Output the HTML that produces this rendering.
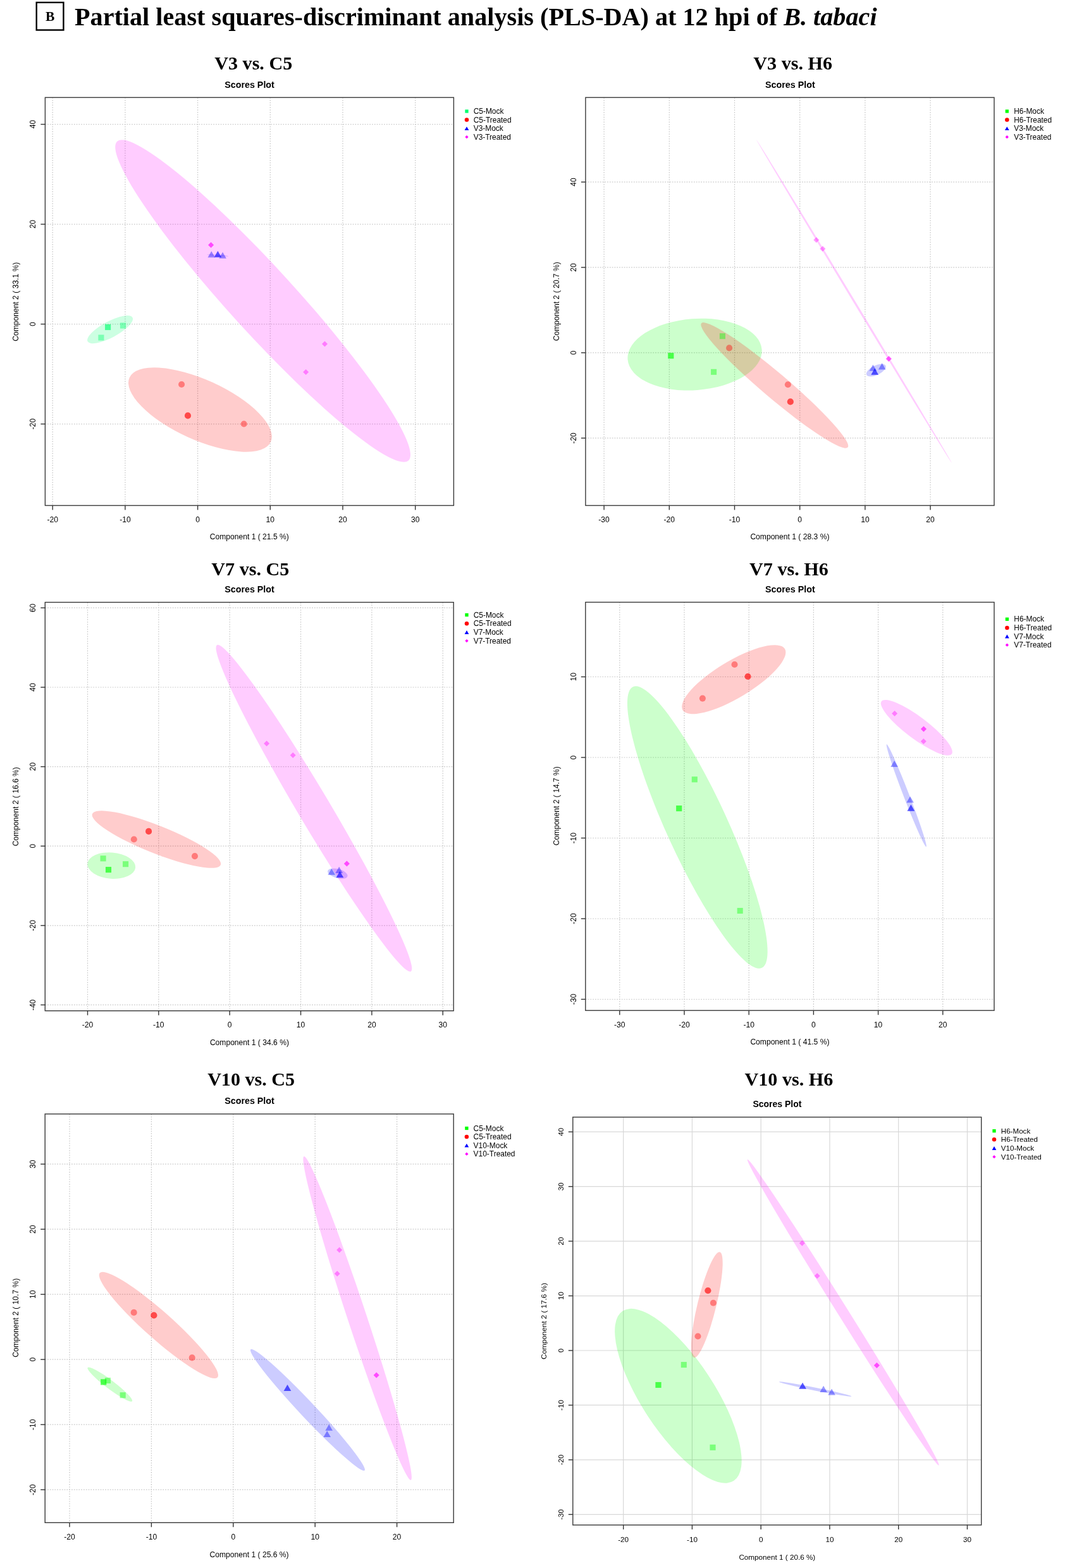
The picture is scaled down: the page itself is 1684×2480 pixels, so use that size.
<!DOCTYPE html>
<html><head><meta charset="utf-8"><title>PLS-DA</title>
<style>html,body{margin:0;padding:0;background:#fff;} svg{display:block;}</style></head>
<body><svg width="1684" height="2480" viewBox="0 0 1684 2480">
<rect width="1684" height="2480" fill="#fff"/>
<rect x="57.7" y="3.9" width="42.7" height="43.6" fill="none" stroke="#000" stroke-width="2.4"/>
<text x="79.1" y="33.2" text-anchor="middle" font-family="'Liberation Serif', 'Times New Roman', serif" font-weight="bold" font-size="21.5">B</text>
<text x="118" y="40" font-family="'Liberation Serif', 'Times New Roman', serif" font-weight="bold" font-size="40.2">Partial least squares-discriminant analysis (PLS-DA) at 12 hpi of <tspan font-style="italic">B. tabaci</tspan></text>
<line x1="83.20" y1="154.2" x2="83.20" y2="799.5" stroke="#c6c6c6" stroke-width="1.3" stroke-dasharray="1.5 2.3"/>
<line x1="197.90" y1="154.2" x2="197.90" y2="799.5" stroke="#c6c6c6" stroke-width="1.3" stroke-dasharray="1.5 2.3"/>
<line x1="312.60" y1="154.2" x2="312.60" y2="799.5" stroke="#c6c6c6" stroke-width="1.3" stroke-dasharray="1.5 2.3"/>
<line x1="427.30" y1="154.2" x2="427.30" y2="799.5" stroke="#c6c6c6" stroke-width="1.3" stroke-dasharray="1.5 2.3"/>
<line x1="542.00" y1="154.2" x2="542.00" y2="799.5" stroke="#c6c6c6" stroke-width="1.3" stroke-dasharray="1.5 2.3"/>
<line x1="656.70" y1="154.2" x2="656.70" y2="799.5" stroke="#c6c6c6" stroke-width="1.3" stroke-dasharray="1.5 2.3"/>
<line x1="71.4" y1="670.60" x2="717.4" y2="670.60" stroke="#c6c6c6" stroke-width="1.3" stroke-dasharray="1.5 2.3"/>
<line x1="71.4" y1="512.60" x2="717.4" y2="512.60" stroke="#c6c6c6" stroke-width="1.3" stroke-dasharray="1.5 2.3"/>
<line x1="71.4" y1="354.60" x2="717.4" y2="354.60" stroke="#c6c6c6" stroke-width="1.3" stroke-dasharray="1.5 2.3"/>
<line x1="71.4" y1="196.60" x2="717.4" y2="196.60" stroke="#c6c6c6" stroke-width="1.3" stroke-dasharray="1.5 2.3"/>
<ellipse cx="174.07" cy="521.15" rx="40.22" ry="12.82" transform="rotate(-28.070 174.07 521.15)" fill="rgba(0,255,110,0.2)"/>
<ellipse cx="316.45" cy="648.00" rx="122.75" ry="47.38" transform="rotate(24.450 316.45 648.00)" fill="rgba(255,0,0,0.2)"/>
<ellipse cx="344.25" cy="404.00" rx="17.00" ry="0.90" transform="rotate(4.386 344.25 404.00)" fill="rgba(0,0,255,0.2)"/>
<ellipse cx="415.63" cy="475.96" rx="341.68" ry="51.65" transform="rotate(47.630 415.63 475.96)" fill="rgba(255,0,255,0.2)"/>
<rect x="155.35" y="529.45" width="9.10" height="9.10" fill="rgba(0,255,110,0.4)"/>
<rect x="166.05" y="512.95" width="9.10" height="9.10" fill="rgba(0,255,110,0.4)"/>
<rect x="166.05" y="512.95" width="9.10" height="9.10" fill="rgba(0,255,110,0.4)"/>
<rect x="189.95" y="510.45" width="9.10" height="9.10" fill="rgba(0,255,110,0.4)"/>
<circle cx="287.10" cy="608.00" r="5.05" fill="rgba(255,0,0,0.4)"/>
<circle cx="297.00" cy="657.40" r="5.05" fill="rgba(255,0,0,0.4)"/>
<circle cx="297.00" cy="657.40" r="5.05" fill="rgba(255,0,0,0.4)"/>
<circle cx="385.70" cy="670.50" r="5.05" fill="rgba(255,0,0,0.4)"/>
<polygon points="334.30,397.25 340.10,407.35 328.50,407.35" fill="rgba(0,0,255,0.4)"/>
<polygon points="344.40,396.95 350.20,407.05 338.60,407.05" fill="rgba(0,0,255,0.4)"/>
<polygon points="344.40,396.95 350.20,407.05 338.60,407.05" fill="rgba(0,0,255,0.4)"/>
<polygon points="352.10,398.65 357.90,408.75 346.30,408.75" fill="rgba(0,0,255,0.4)"/>
<polygon points="333.60,383.10 338.10,387.60 333.60,392.10 329.10,387.60" fill="rgba(255,0,255,0.4)"/>
<polygon points="333.60,383.10 338.10,387.60 333.60,392.10 329.10,387.60" fill="rgba(255,0,255,0.4)"/>
<polygon points="513.50,539.40 518.00,543.90 513.50,548.40 509.00,543.90" fill="rgba(255,0,255,0.4)"/>
<polygon points="483.60,583.90 488.10,588.40 483.60,592.90 479.10,588.40" fill="rgba(255,0,255,0.4)"/>
<rect x="71.4" y="154.2" width="646.0" height="645.3" fill="none" stroke="#383838" stroke-width="1.4"/>
<line x1="83.20" y1="799.5" x2="83.20" y2="806.5" stroke="#333" stroke-width="1.4"/>
<text x="83.20" y="825.8" text-anchor="middle" font-family="'Liberation Sans', Arial, sans-serif" font-size="12.1">-20</text>
<line x1="197.90" y1="799.5" x2="197.90" y2="806.5" stroke="#333" stroke-width="1.4"/>
<text x="197.90" y="825.8" text-anchor="middle" font-family="'Liberation Sans', Arial, sans-serif" font-size="12.1">-10</text>
<line x1="312.60" y1="799.5" x2="312.60" y2="806.5" stroke="#333" stroke-width="1.4"/>
<text x="312.60" y="825.8" text-anchor="middle" font-family="'Liberation Sans', Arial, sans-serif" font-size="12.1">0</text>
<line x1="427.30" y1="799.5" x2="427.30" y2="806.5" stroke="#333" stroke-width="1.4"/>
<text x="427.30" y="825.8" text-anchor="middle" font-family="'Liberation Sans', Arial, sans-serif" font-size="12.1">10</text>
<line x1="542.00" y1="799.5" x2="542.00" y2="806.5" stroke="#333" stroke-width="1.4"/>
<text x="542.00" y="825.8" text-anchor="middle" font-family="'Liberation Sans', Arial, sans-serif" font-size="12.1">20</text>
<line x1="656.70" y1="799.5" x2="656.70" y2="806.5" stroke="#333" stroke-width="1.4"/>
<text x="656.70" y="825.8" text-anchor="middle" font-family="'Liberation Sans', Arial, sans-serif" font-size="12.1">30</text>
<line x1="64.4" y1="670.60" x2="71.4" y2="670.60" stroke="#333" stroke-width="1.4"/>
<text x="56.4" y="670.60" transform="rotate(-90 56.4 670.60)" text-anchor="middle" font-family="'Liberation Sans', Arial, sans-serif" font-size="12.1">-20</text>
<line x1="64.4" y1="512.60" x2="71.4" y2="512.60" stroke="#333" stroke-width="1.4"/>
<text x="56.4" y="512.60" transform="rotate(-90 56.4 512.60)" text-anchor="middle" font-family="'Liberation Sans', Arial, sans-serif" font-size="12.1">0</text>
<line x1="64.4" y1="354.60" x2="71.4" y2="354.60" stroke="#333" stroke-width="1.4"/>
<text x="56.4" y="354.60" transform="rotate(-90 56.4 354.60)" text-anchor="middle" font-family="'Liberation Sans', Arial, sans-serif" font-size="12.1">20</text>
<line x1="64.4" y1="196.60" x2="71.4" y2="196.60" stroke="#333" stroke-width="1.4"/>
<text x="56.4" y="196.60" transform="rotate(-90 56.4 196.60)" text-anchor="middle" font-family="'Liberation Sans', Arial, sans-serif" font-size="12.1">40</text>
<text x="400.75" y="110.2" text-anchor="middle" font-family="'Liberation Serif', 'Times New Roman', serif" font-weight="bold" font-size="30.1">V3 vs. C5</text>
<text x="394.55" y="138.6" text-anchor="middle" font-family="'Liberation Sans', Arial, sans-serif" font-weight="bold" font-size="14.3">Scores Plot</text>
<text x="394.3" y="853.2" text-anchor="middle" font-family="'Liberation Sans', Arial, sans-serif" font-size="12.1">Component 1 ( 21.5 %)</text>
<text x="28.9" y="477.3" transform="rotate(-90 28.9 477.3)" text-anchor="middle" font-family="'Liberation Sans', Arial, sans-serif" font-size="12.1">Component 2 ( 33.1 %)</text>
<rect x="735.35" y="173.35" width="5.30" height="5.30" fill="rgba(0,255,110,1)"/>
<text x="748.7" y="180.10" font-family="'Liberation Sans', Arial, sans-serif" font-size="11.95">C5-Mock</text>
<circle cx="738.00" cy="189.55" r="3.25" fill="rgba(255,0,0,1)"/>
<text x="748.7" y="193.65" font-family="'Liberation Sans', Arial, sans-serif" font-size="11.95">C5-Treated</text>
<polygon points="738.00,200.14 741.40,206.06 734.60,206.06" fill="rgba(0,0,255,1)"/>
<text x="748.7" y="207.20" font-family="'Liberation Sans', Arial, sans-serif" font-size="11.95">V3-Mock</text>
<polygon points="738.00,214.00 740.65,216.65 738.00,219.30 735.35,216.65" fill="rgba(255,0,255,1)"/>
<text x="748.7" y="220.75" font-family="'Liberation Sans', Arial, sans-serif" font-size="11.95">V3-Treated</text>
<line x1="955.10" y1="154.2" x2="955.10" y2="799.5" stroke="#cacaca" stroke-width="1.2" stroke-dasharray="1.8 2.0"/>
<line x1="1058.30" y1="154.2" x2="1058.30" y2="799.5" stroke="#cacaca" stroke-width="1.2" stroke-dasharray="1.8 2.0"/>
<line x1="1161.50" y1="154.2" x2="1161.50" y2="799.5" stroke="#cacaca" stroke-width="1.2" stroke-dasharray="1.8 2.0"/>
<line x1="1264.70" y1="154.2" x2="1264.70" y2="799.5" stroke="#cacaca" stroke-width="1.2" stroke-dasharray="1.8 2.0"/>
<line x1="1367.90" y1="154.2" x2="1367.90" y2="799.5" stroke="#cacaca" stroke-width="1.2" stroke-dasharray="1.8 2.0"/>
<line x1="1471.10" y1="154.2" x2="1471.10" y2="799.5" stroke="#cacaca" stroke-width="1.2" stroke-dasharray="1.8 2.0"/>
<line x1="925.9" y1="692.90" x2="1572" y2="692.90" stroke="#cacaca" stroke-width="1.2" stroke-dasharray="1.8 2.0"/>
<line x1="925.9" y1="557.90" x2="1572" y2="557.90" stroke="#cacaca" stroke-width="1.2" stroke-dasharray="1.8 2.0"/>
<line x1="925.9" y1="422.90" x2="1572" y2="422.90" stroke="#cacaca" stroke-width="1.2" stroke-dasharray="1.8 2.0"/>
<line x1="925.9" y1="287.90" x2="1572" y2="287.90" stroke="#cacaca" stroke-width="1.2" stroke-dasharray="1.8 2.0"/>
<ellipse cx="1098.56" cy="560.63" rx="106.34" ry="56.51" transform="rotate(-4.240 1098.56 560.63)" fill="rgba(0,255,0,0.2)"/>
<ellipse cx="1224.79" cy="609.42" rx="151.79" ry="19.78" transform="rotate(40.310 1224.79 609.42)" fill="rgba(255,0,0,0.2)"/>
<ellipse cx="1385.30" cy="585.60" rx="16.78" ry="7.53" transform="rotate(-25.390 1385.30 585.60)" fill="rgba(0,0,255,0.2)"/>
<ellipse cx="1350.65" cy="476.90" rx="298.73" ry="1.60" transform="rotate(58.867 1350.65 476.90)" fill="rgba(255,0,255,0.2)"/>
<rect x="1056.25" y="558.15" width="9.10" height="9.10" fill="rgba(0,255,0,0.4)"/>
<rect x="1056.25" y="558.15" width="9.10" height="9.10" fill="rgba(0,255,0,0.4)"/>
<rect x="1137.85" y="527.15" width="9.10" height="9.10" fill="rgba(0,255,0,0.4)"/>
<rect x="1124.05" y="583.75" width="9.10" height="9.10" fill="rgba(0,255,0,0.4)"/>
<circle cx="1153.10" cy="550.40" r="5.05" fill="rgba(255,0,0,0.4)"/>
<circle cx="1245.90" cy="608.30" r="5.05" fill="rgba(255,0,0,0.4)"/>
<circle cx="1249.80" cy="635.40" r="5.05" fill="rgba(255,0,0,0.4)"/>
<circle cx="1249.80" cy="635.40" r="5.05" fill="rgba(255,0,0,0.4)"/>
<polygon points="1380.40,576.75 1386.20,586.85 1374.60,586.85" fill="rgba(0,0,255,0.4)"/>
<polygon points="1394.70,574.35 1400.50,584.45 1388.90,584.45" fill="rgba(0,0,255,0.4)"/>
<polygon points="1383.20,582.55 1389.00,592.65 1377.40,592.65" fill="rgba(0,0,255,0.4)"/>
<polygon points="1383.20,582.55 1389.00,592.65 1377.40,592.65" fill="rgba(0,0,255,0.4)"/>
<polygon points="1290.80,375.10 1295.30,379.60 1290.80,384.10 1286.30,379.60" fill="rgba(255,0,255,0.4)"/>
<polygon points="1300.90,389.00 1305.40,393.50 1300.90,398.00 1296.40,393.50" fill="rgba(255,0,255,0.4)"/>
<polygon points="1405.30,562.90 1409.80,567.40 1405.30,571.90 1400.80,567.40" fill="rgba(255,0,255,0.4)"/>
<polygon points="1405.30,562.90 1409.80,567.40 1405.30,571.90 1400.80,567.40" fill="rgba(255,0,255,0.4)"/>
<rect x="925.9" y="154.2" width="646.1" height="645.3" fill="none" stroke="#383838" stroke-width="1.4"/>
<line x1="955.10" y1="799.5" x2="955.10" y2="806.5" stroke="#333" stroke-width="1.4"/>
<text x="955.10" y="825.8" text-anchor="middle" font-family="'Liberation Sans', Arial, sans-serif" font-size="12.1">-30</text>
<line x1="1058.30" y1="799.5" x2="1058.30" y2="806.5" stroke="#333" stroke-width="1.4"/>
<text x="1058.30" y="825.8" text-anchor="middle" font-family="'Liberation Sans', Arial, sans-serif" font-size="12.1">-20</text>
<line x1="1161.50" y1="799.5" x2="1161.50" y2="806.5" stroke="#333" stroke-width="1.4"/>
<text x="1161.50" y="825.8" text-anchor="middle" font-family="'Liberation Sans', Arial, sans-serif" font-size="12.1">-10</text>
<line x1="1264.70" y1="799.5" x2="1264.70" y2="806.5" stroke="#333" stroke-width="1.4"/>
<text x="1264.70" y="825.8" text-anchor="middle" font-family="'Liberation Sans', Arial, sans-serif" font-size="12.1">0</text>
<line x1="1367.90" y1="799.5" x2="1367.90" y2="806.5" stroke="#333" stroke-width="1.4"/>
<text x="1367.90" y="825.8" text-anchor="middle" font-family="'Liberation Sans', Arial, sans-serif" font-size="12.1">10</text>
<line x1="1471.10" y1="799.5" x2="1471.10" y2="806.5" stroke="#333" stroke-width="1.4"/>
<text x="1471.10" y="825.8" text-anchor="middle" font-family="'Liberation Sans', Arial, sans-serif" font-size="12.1">20</text>
<line x1="918.9" y1="692.90" x2="925.9" y2="692.90" stroke="#333" stroke-width="1.4"/>
<text x="911" y="692.90" transform="rotate(-90 911 692.90)" text-anchor="middle" font-family="'Liberation Sans', Arial, sans-serif" font-size="12.1">-20</text>
<line x1="918.9" y1="557.90" x2="925.9" y2="557.90" stroke="#333" stroke-width="1.4"/>
<text x="911" y="557.90" transform="rotate(-90 911 557.90)" text-anchor="middle" font-family="'Liberation Sans', Arial, sans-serif" font-size="12.1">0</text>
<line x1="918.9" y1="422.90" x2="925.9" y2="422.90" stroke="#333" stroke-width="1.4"/>
<text x="911" y="422.90" transform="rotate(-90 911 422.90)" text-anchor="middle" font-family="'Liberation Sans', Arial, sans-serif" font-size="12.1">20</text>
<line x1="918.9" y1="287.90" x2="925.9" y2="287.90" stroke="#333" stroke-width="1.4"/>
<text x="911" y="287.90" transform="rotate(-90 911 287.90)" text-anchor="middle" font-family="'Liberation Sans', Arial, sans-serif" font-size="12.1">40</text>
<text x="1253.65" y="110.4" text-anchor="middle" font-family="'Liberation Serif', 'Times New Roman', serif" font-weight="bold" font-size="30.1">V3 vs. H6</text>
<text x="1249.4" y="138.6" text-anchor="middle" font-family="'Liberation Sans', Arial, sans-serif" font-weight="bold" font-size="14.3">Scores Plot</text>
<text x="1248.9" y="853.2" text-anchor="middle" font-family="'Liberation Sans', Arial, sans-serif" font-size="12.1">Component 1 ( 28.3 %)</text>
<text x="883.8" y="476.8" transform="rotate(-90 883.8 476.8)" text-anchor="middle" font-family="'Liberation Sans', Arial, sans-serif" font-size="12.1">Component 2 ( 20.7 %)</text>
<rect x="1589.65" y="173.35" width="5.30" height="5.30" fill="rgba(0,255,0,1)"/>
<text x="1603.2" y="180.10" font-family="'Liberation Sans', Arial, sans-serif" font-size="11.95">H6-Mock</text>
<circle cx="1592.30" cy="189.55" r="3.25" fill="rgba(255,0,0,1)"/>
<text x="1603.2" y="193.65" font-family="'Liberation Sans', Arial, sans-serif" font-size="11.95">H6-Treated</text>
<polygon points="1592.30,200.14 1595.70,206.06 1588.90,206.06" fill="rgba(0,0,255,1)"/>
<text x="1603.2" y="207.20" font-family="'Liberation Sans', Arial, sans-serif" font-size="11.95">V3-Mock</text>
<polygon points="1592.30,214.00 1594.95,216.65 1592.30,219.30 1589.65,216.65" fill="rgba(255,0,255,1)"/>
<text x="1603.2" y="220.75" font-family="'Liberation Sans', Arial, sans-serif" font-size="11.95">V3-Treated</text>
<line x1="138.50" y1="952.6" x2="138.50" y2="1598.7" stroke="#cacaca" stroke-width="1.2" stroke-dasharray="1.8 2.0"/>
<line x1="250.85" y1="952.6" x2="250.85" y2="1598.7" stroke="#cacaca" stroke-width="1.2" stroke-dasharray="1.8 2.0"/>
<line x1="363.20" y1="952.6" x2="363.20" y2="1598.7" stroke="#cacaca" stroke-width="1.2" stroke-dasharray="1.8 2.0"/>
<line x1="475.55" y1="952.6" x2="475.55" y2="1598.7" stroke="#cacaca" stroke-width="1.2" stroke-dasharray="1.8 2.0"/>
<line x1="587.90" y1="952.6" x2="587.90" y2="1598.7" stroke="#cacaca" stroke-width="1.2" stroke-dasharray="1.8 2.0"/>
<line x1="700.25" y1="952.6" x2="700.25" y2="1598.7" stroke="#cacaca" stroke-width="1.2" stroke-dasharray="1.8 2.0"/>
<line x1="71.3" y1="1589.40" x2="717.2" y2="1589.40" stroke="#cacaca" stroke-width="1.2" stroke-dasharray="1.8 2.0"/>
<line x1="71.3" y1="1463.80" x2="717.2" y2="1463.80" stroke="#cacaca" stroke-width="1.2" stroke-dasharray="1.8 2.0"/>
<line x1="71.3" y1="1338.20" x2="717.2" y2="1338.20" stroke="#cacaca" stroke-width="1.2" stroke-dasharray="1.8 2.0"/>
<line x1="71.3" y1="1212.60" x2="717.2" y2="1212.60" stroke="#cacaca" stroke-width="1.2" stroke-dasharray="1.8 2.0"/>
<line x1="71.3" y1="1087.00" x2="717.2" y2="1087.00" stroke="#cacaca" stroke-width="1.2" stroke-dasharray="1.8 2.0"/>
<line x1="71.3" y1="961.40" x2="717.2" y2="961.40" stroke="#cacaca" stroke-width="1.2" stroke-dasharray="1.8 2.0"/>
<ellipse cx="176.25" cy="1369.05" rx="38.04" ry="20.69" transform="rotate(4.652 176.25 1369.05)" fill="rgba(0,255,0,0.2)"/>
<ellipse cx="247.42" cy="1327.60" rx="109.20" ry="22.00" transform="rotate(21.680 247.42 1327.60)" fill="rgba(255,0,0,0.2)"/>
<ellipse cx="533.85" cy="1381.65" rx="16.21" ry="7.31" transform="rotate(15.297 533.85 1381.65)" fill="rgba(0,0,255,0.2)"/>
<ellipse cx="496.39" cy="1278.35" rx="300.26" ry="25.55" transform="rotate(59.290 496.39 1278.35)" fill="rgba(255,0,255,0.2)"/>
<rect x="158.55" y="1353.25" width="9.10" height="9.10" fill="rgba(0,255,0,0.4)"/>
<rect x="166.95" y="1371.05" width="9.10" height="9.10" fill="rgba(0,255,0,0.4)"/>
<rect x="166.95" y="1371.05" width="9.10" height="9.10" fill="rgba(0,255,0,0.4)"/>
<rect x="194.05" y="1362.15" width="9.10" height="9.10" fill="rgba(0,255,0,0.4)"/>
<circle cx="211.80" cy="1327.50" r="5.05" fill="rgba(255,0,0,0.4)"/>
<circle cx="235.10" cy="1314.90" r="5.05" fill="rgba(255,0,0,0.4)"/>
<circle cx="235.10" cy="1314.90" r="5.05" fill="rgba(255,0,0,0.4)"/>
<circle cx="308.00" cy="1354.10" r="5.05" fill="rgba(255,0,0,0.4)"/>
<polygon points="524.30,1373.65 530.10,1383.75 518.50,1383.75" fill="rgba(0,0,255,0.4)"/>
<polygon points="536.20,1370.85 542.00,1380.95 530.40,1380.95" fill="rgba(0,0,255,0.4)"/>
<polygon points="537.40,1377.95 543.20,1388.05 531.60,1388.05" fill="rgba(0,0,255,0.4)"/>
<polygon points="537.40,1377.95 543.20,1388.05 531.60,1388.05" fill="rgba(0,0,255,0.4)"/>
<polygon points="421.60,1171.40 426.10,1175.90 421.60,1180.40 417.10,1175.90" fill="rgba(255,0,255,0.4)"/>
<polygon points="463.20,1190.10 467.70,1194.60 463.20,1199.10 458.70,1194.60" fill="rgba(255,0,255,0.4)"/>
<polygon points="548.40,1361.60 552.90,1366.10 548.40,1370.60 543.90,1366.10" fill="rgba(255,0,255,0.4)"/>
<polygon points="548.40,1361.60 552.90,1366.10 548.40,1370.60 543.90,1366.10" fill="rgba(255,0,255,0.4)"/>
<rect x="71.3" y="952.6" width="645.9000000000001" height="646.1" fill="none" stroke="#383838" stroke-width="1.4"/>
<line x1="138.50" y1="1598.7" x2="138.50" y2="1605.7" stroke="#333" stroke-width="1.4"/>
<text x="138.50" y="1625.2" text-anchor="middle" font-family="'Liberation Sans', Arial, sans-serif" font-size="12.1">-20</text>
<line x1="250.85" y1="1598.7" x2="250.85" y2="1605.7" stroke="#333" stroke-width="1.4"/>
<text x="250.85" y="1625.2" text-anchor="middle" font-family="'Liberation Sans', Arial, sans-serif" font-size="12.1">-10</text>
<line x1="363.20" y1="1598.7" x2="363.20" y2="1605.7" stroke="#333" stroke-width="1.4"/>
<text x="363.20" y="1625.2" text-anchor="middle" font-family="'Liberation Sans', Arial, sans-serif" font-size="12.1">0</text>
<line x1="475.55" y1="1598.7" x2="475.55" y2="1605.7" stroke="#333" stroke-width="1.4"/>
<text x="475.55" y="1625.2" text-anchor="middle" font-family="'Liberation Sans', Arial, sans-serif" font-size="12.1">10</text>
<line x1="587.90" y1="1598.7" x2="587.90" y2="1605.7" stroke="#333" stroke-width="1.4"/>
<text x="587.90" y="1625.2" text-anchor="middle" font-family="'Liberation Sans', Arial, sans-serif" font-size="12.1">20</text>
<line x1="700.25" y1="1598.7" x2="700.25" y2="1605.7" stroke="#333" stroke-width="1.4"/>
<text x="700.25" y="1625.2" text-anchor="middle" font-family="'Liberation Sans', Arial, sans-serif" font-size="12.1">30</text>
<line x1="64.3" y1="1589.40" x2="71.3" y2="1589.40" stroke="#333" stroke-width="1.4"/>
<text x="56.4" y="1589.40" transform="rotate(-90 56.4 1589.40)" text-anchor="middle" font-family="'Liberation Sans', Arial, sans-serif" font-size="12.1">-40</text>
<line x1="64.3" y1="1463.80" x2="71.3" y2="1463.80" stroke="#333" stroke-width="1.4"/>
<text x="56.4" y="1463.80" transform="rotate(-90 56.4 1463.80)" text-anchor="middle" font-family="'Liberation Sans', Arial, sans-serif" font-size="12.1">-20</text>
<line x1="64.3" y1="1338.20" x2="71.3" y2="1338.20" stroke="#333" stroke-width="1.4"/>
<text x="56.4" y="1338.20" transform="rotate(-90 56.4 1338.20)" text-anchor="middle" font-family="'Liberation Sans', Arial, sans-serif" font-size="12.1">0</text>
<line x1="64.3" y1="1212.60" x2="71.3" y2="1212.60" stroke="#333" stroke-width="1.4"/>
<text x="56.4" y="1212.60" transform="rotate(-90 56.4 1212.60)" text-anchor="middle" font-family="'Liberation Sans', Arial, sans-serif" font-size="12.1">20</text>
<line x1="64.3" y1="1087.00" x2="71.3" y2="1087.00" stroke="#333" stroke-width="1.4"/>
<text x="56.4" y="1087.00" transform="rotate(-90 56.4 1087.00)" text-anchor="middle" font-family="'Liberation Sans', Arial, sans-serif" font-size="12.1">40</text>
<line x1="64.3" y1="961.40" x2="71.3" y2="961.40" stroke="#333" stroke-width="1.4"/>
<text x="56.4" y="961.40" transform="rotate(-90 56.4 961.40)" text-anchor="middle" font-family="'Liberation Sans', Arial, sans-serif" font-size="12.1">60</text>
<text x="395.8" y="909.6" text-anchor="middle" font-family="'Liberation Serif', 'Times New Roman', serif" font-weight="bold" font-size="30.1">V7 vs. C5</text>
<text x="394.5" y="936.8" text-anchor="middle" font-family="'Liberation Sans', Arial, sans-serif" font-weight="bold" font-size="14.3">Scores Plot</text>
<text x="394.4" y="1652.6" text-anchor="middle" font-family="'Liberation Sans', Arial, sans-serif" font-size="12.1">Component 1 ( 34.6 %)</text>
<text x="28.9" y="1275.7" transform="rotate(-90 28.9 1275.7)" text-anchor="middle" font-family="'Liberation Sans', Arial, sans-serif" font-size="12.1">Component 2 ( 16.6 %)</text>
<rect x="735.35" y="969.95" width="5.30" height="5.30" fill="rgba(0,255,0,1)"/>
<text x="748.7" y="976.70" font-family="'Liberation Sans', Arial, sans-serif" font-size="11.95">C5-Mock</text>
<circle cx="738.00" cy="986.27" r="3.25" fill="rgba(255,0,0,1)"/>
<text x="748.7" y="990.37" font-family="'Liberation Sans', Arial, sans-serif" font-size="11.95">C5-Treated</text>
<polygon points="738.00,996.98 741.40,1002.90 734.60,1002.90" fill="rgba(0,0,255,1)"/>
<text x="748.7" y="1004.04" font-family="'Liberation Sans', Arial, sans-serif" font-size="11.95">V7-Mock</text>
<polygon points="738.00,1010.96 740.65,1013.61 738.00,1016.26 735.35,1013.61" fill="rgba(255,0,255,1)"/>
<text x="748.7" y="1017.71" font-family="'Liberation Sans', Arial, sans-serif" font-size="11.95">V7-Treated</text>
<line x1="979.80" y1="952.5" x2="979.80" y2="1598.2" stroke="#cacaca" stroke-width="1.2" stroke-dasharray="1.8 2.0"/>
<line x1="1082.00" y1="952.5" x2="1082.00" y2="1598.2" stroke="#cacaca" stroke-width="1.2" stroke-dasharray="1.8 2.0"/>
<line x1="1184.20" y1="952.5" x2="1184.20" y2="1598.2" stroke="#cacaca" stroke-width="1.2" stroke-dasharray="1.8 2.0"/>
<line x1="1286.40" y1="952.5" x2="1286.40" y2="1598.2" stroke="#cacaca" stroke-width="1.2" stroke-dasharray="1.8 2.0"/>
<line x1="1388.60" y1="952.5" x2="1388.60" y2="1598.2" stroke="#cacaca" stroke-width="1.2" stroke-dasharray="1.8 2.0"/>
<line x1="1490.80" y1="952.5" x2="1490.80" y2="1598.2" stroke="#cacaca" stroke-width="1.2" stroke-dasharray="1.8 2.0"/>
<line x1="925.8" y1="1580.50" x2="1572" y2="1580.50" stroke="#cacaca" stroke-width="1.2" stroke-dasharray="1.8 2.0"/>
<line x1="925.8" y1="1453.00" x2="1572" y2="1453.00" stroke="#cacaca" stroke-width="1.2" stroke-dasharray="1.8 2.0"/>
<line x1="925.8" y1="1325.50" x2="1572" y2="1325.50" stroke="#cacaca" stroke-width="1.2" stroke-dasharray="1.8 2.0"/>
<line x1="925.8" y1="1198.00" x2="1572" y2="1198.00" stroke="#cacaca" stroke-width="1.2" stroke-dasharray="1.8 2.0"/>
<line x1="925.8" y1="1070.50" x2="1572" y2="1070.50" stroke="#cacaca" stroke-width="1.2" stroke-dasharray="1.8 2.0"/>
<ellipse cx="1102.79" cy="1308.55" rx="244.51" ry="48.29" transform="rotate(65.400 1102.79 1308.55)" fill="rgba(0,255,0,0.2)"/>
<ellipse cx="1160.27" cy="1074.74" rx="94.14" ry="29.17" transform="rotate(-30.950 1160.27 1074.74)" fill="rgba(255,0,0,0.2)"/>
<ellipse cx="1433.30" cy="1258.30" rx="86.84" ry="4.50" transform="rotate(68.872 1433.30 1258.30)" fill="rgba(0,0,255,0.2)"/>
<ellipse cx="1449.36" cy="1150.87" rx="69.50" ry="17.29" transform="rotate(36.910 1449.36 1150.87)" fill="rgba(255,0,255,0.2)"/>
<rect x="1093.75" y="1228.25" width="9.10" height="9.10" fill="rgba(0,255,0,0.4)"/>
<rect x="1069.15" y="1274.05" width="9.10" height="9.10" fill="rgba(0,255,0,0.4)"/>
<rect x="1069.15" y="1274.05" width="9.10" height="9.10" fill="rgba(0,255,0,0.4)"/>
<rect x="1165.65" y="1435.95" width="9.10" height="9.10" fill="rgba(0,255,0,0.4)"/>
<circle cx="1161.50" cy="1051.00" r="5.05" fill="rgba(255,0,0,0.4)"/>
<circle cx="1182.50" cy="1070.00" r="5.05" fill="rgba(255,0,0,0.4)"/>
<circle cx="1182.50" cy="1070.00" r="5.05" fill="rgba(255,0,0,0.4)"/>
<circle cx="1110.90" cy="1104.60" r="5.05" fill="rgba(255,0,0,0.4)"/>
<polygon points="1414.10,1202.95 1419.90,1213.05 1408.30,1213.05" fill="rgba(0,0,255,0.4)"/>
<polygon points="1439.10,1259.45 1444.90,1269.55 1433.30,1269.55" fill="rgba(0,0,255,0.4)"/>
<polygon points="1440.40,1272.55 1446.20,1282.65 1434.60,1282.65" fill="rgba(0,0,255,0.4)"/>
<polygon points="1440.40,1272.55 1446.20,1282.65 1434.60,1282.65" fill="rgba(0,0,255,0.4)"/>
<polygon points="1414.60,1124.10 1419.10,1128.60 1414.60,1133.10 1410.10,1128.60" fill="rgba(255,0,255,0.4)"/>
<polygon points="1460.50,1148.60 1465.00,1153.10 1460.50,1157.60 1456.00,1153.10" fill="rgba(255,0,255,0.4)"/>
<polygon points="1460.50,1148.60 1465.00,1153.10 1460.50,1157.60 1456.00,1153.10" fill="rgba(255,0,255,0.4)"/>
<polygon points="1460.30,1168.00 1464.80,1172.50 1460.30,1177.00 1455.80,1172.50" fill="rgba(255,0,255,0.4)"/>
<rect x="925.8" y="952.5" width="646.2" height="645.7" fill="none" stroke="#383838" stroke-width="1.4"/>
<line x1="979.80" y1="1598.2" x2="979.80" y2="1605.2" stroke="#333" stroke-width="1.4"/>
<text x="979.80" y="1624.8" text-anchor="middle" font-family="'Liberation Sans', Arial, sans-serif" font-size="12.1">-30</text>
<line x1="1082.00" y1="1598.2" x2="1082.00" y2="1605.2" stroke="#333" stroke-width="1.4"/>
<text x="1082.00" y="1624.8" text-anchor="middle" font-family="'Liberation Sans', Arial, sans-serif" font-size="12.1">-20</text>
<line x1="1184.20" y1="1598.2" x2="1184.20" y2="1605.2" stroke="#333" stroke-width="1.4"/>
<text x="1184.20" y="1624.8" text-anchor="middle" font-family="'Liberation Sans', Arial, sans-serif" font-size="12.1">-10</text>
<line x1="1286.40" y1="1598.2" x2="1286.40" y2="1605.2" stroke="#333" stroke-width="1.4"/>
<text x="1286.40" y="1624.8" text-anchor="middle" font-family="'Liberation Sans', Arial, sans-serif" font-size="12.1">0</text>
<line x1="1388.60" y1="1598.2" x2="1388.60" y2="1605.2" stroke="#333" stroke-width="1.4"/>
<text x="1388.60" y="1624.8" text-anchor="middle" font-family="'Liberation Sans', Arial, sans-serif" font-size="12.1">10</text>
<line x1="1490.80" y1="1598.2" x2="1490.80" y2="1605.2" stroke="#333" stroke-width="1.4"/>
<text x="1490.80" y="1624.8" text-anchor="middle" font-family="'Liberation Sans', Arial, sans-serif" font-size="12.1">20</text>
<line x1="918.8" y1="1580.50" x2="925.8" y2="1580.50" stroke="#333" stroke-width="1.4"/>
<text x="911" y="1580.50" transform="rotate(-90 911 1580.50)" text-anchor="middle" font-family="'Liberation Sans', Arial, sans-serif" font-size="12.1">-30</text>
<line x1="918.8" y1="1453.00" x2="925.8" y2="1453.00" stroke="#333" stroke-width="1.4"/>
<text x="911" y="1453.00" transform="rotate(-90 911 1453.00)" text-anchor="middle" font-family="'Liberation Sans', Arial, sans-serif" font-size="12.1">-20</text>
<line x1="918.8" y1="1325.50" x2="925.8" y2="1325.50" stroke="#333" stroke-width="1.4"/>
<text x="911" y="1325.50" transform="rotate(-90 911 1325.50)" text-anchor="middle" font-family="'Liberation Sans', Arial, sans-serif" font-size="12.1">-10</text>
<line x1="918.8" y1="1198.00" x2="925.8" y2="1198.00" stroke="#333" stroke-width="1.4"/>
<text x="911" y="1198.00" transform="rotate(-90 911 1198.00)" text-anchor="middle" font-family="'Liberation Sans', Arial, sans-serif" font-size="12.1">0</text>
<line x1="918.8" y1="1070.50" x2="925.8" y2="1070.50" stroke="#333" stroke-width="1.4"/>
<text x="911" y="1070.50" transform="rotate(-90 911 1070.50)" text-anchor="middle" font-family="'Liberation Sans', Arial, sans-serif" font-size="12.1">10</text>
<text x="1247.4" y="909.6" text-anchor="middle" font-family="'Liberation Serif', 'Times New Roman', serif" font-weight="bold" font-size="30.1">V7 vs. H6</text>
<text x="1249.4" y="936.6" text-anchor="middle" font-family="'Liberation Sans', Arial, sans-serif" font-weight="bold" font-size="14.3">Scores Plot</text>
<text x="1248.9" y="1652.2" text-anchor="middle" font-family="'Liberation Sans', Arial, sans-serif" font-size="12.1">Component 1 ( 41.5 %)</text>
<text x="883.8" y="1274.6" transform="rotate(-90 883.8 1274.6)" text-anchor="middle" font-family="'Liberation Sans', Arial, sans-serif" font-size="12.1">Component 2 ( 14.7 %)</text>
<rect x="1589.75" y="976.65" width="5.30" height="5.30" fill="rgba(0,255,0,1)"/>
<text x="1603.3" y="983.40" font-family="'Liberation Sans', Arial, sans-serif" font-size="11.95">H6-Mock</text>
<circle cx="1592.40" cy="992.93" r="3.25" fill="rgba(255,0,0,1)"/>
<text x="1603.3" y="997.03" font-family="'Liberation Sans', Arial, sans-serif" font-size="11.95">H6-Treated</text>
<polygon points="1592.40,1003.60 1595.80,1009.52 1589.00,1009.52" fill="rgba(0,0,255,1)"/>
<text x="1603.3" y="1010.66" font-family="'Liberation Sans', Arial, sans-serif" font-size="11.95">V7-Mock</text>
<polygon points="1592.40,1017.54 1595.05,1020.19 1592.40,1022.84 1589.75,1020.19" fill="rgba(255,0,255,1)"/>
<text x="1603.3" y="1024.29" font-family="'Liberation Sans', Arial, sans-serif" font-size="11.95">V7-Treated</text>
<line x1="110.00" y1="1761.9" x2="110.00" y2="2408.3" stroke="#cacaca" stroke-width="1.2" stroke-dasharray="1.8 2.0"/>
<line x1="239.40" y1="1761.9" x2="239.40" y2="2408.3" stroke="#cacaca" stroke-width="1.2" stroke-dasharray="1.8 2.0"/>
<line x1="368.80" y1="1761.9" x2="368.80" y2="2408.3" stroke="#cacaca" stroke-width="1.2" stroke-dasharray="1.8 2.0"/>
<line x1="498.20" y1="1761.9" x2="498.20" y2="2408.3" stroke="#cacaca" stroke-width="1.2" stroke-dasharray="1.8 2.0"/>
<line x1="627.60" y1="1761.9" x2="627.60" y2="2408.3" stroke="#cacaca" stroke-width="1.2" stroke-dasharray="1.8 2.0"/>
<line x1="71.2" y1="2356.20" x2="717.2" y2="2356.20" stroke="#cacaca" stroke-width="1.2" stroke-dasharray="1.8 2.0"/>
<line x1="71.2" y1="2253.20" x2="717.2" y2="2253.20" stroke="#cacaca" stroke-width="1.2" stroke-dasharray="1.8 2.0"/>
<line x1="71.2" y1="2150.20" x2="717.2" y2="2150.20" stroke="#cacaca" stroke-width="1.2" stroke-dasharray="1.8 2.0"/>
<line x1="71.2" y1="2047.20" x2="717.2" y2="2047.20" stroke="#cacaca" stroke-width="1.2" stroke-dasharray="1.8 2.0"/>
<line x1="71.2" y1="1944.20" x2="717.2" y2="1944.20" stroke="#cacaca" stroke-width="1.2" stroke-dasharray="1.8 2.0"/>
<line x1="71.2" y1="1841.20" x2="717.2" y2="1841.20" stroke="#cacaca" stroke-width="1.2" stroke-dasharray="1.8 2.0"/>
<ellipse cx="173.75" cy="2189.57" rx="44.09" ry="6.81" transform="rotate(37.110 173.75 2189.57)" fill="rgba(0,255,0,0.2)"/>
<ellipse cx="250.86" cy="2095.94" rx="124.44" ry="21.61" transform="rotate(41.600 250.86 2095.94)" fill="rgba(255,0,0,0.2)"/>
<ellipse cx="486.45" cy="2229.95" rx="131.44" ry="12.30" transform="rotate(46.757 486.45 2229.95)" fill="rgba(0,0,255,0.2)"/>
<ellipse cx="565.15" cy="2084.95" rx="269.55" ry="15.10" transform="rotate(71.720 565.15 2084.95)" fill="rgba(255,0,255,0.2)"/>
<rect x="159.15" y="2181.35" width="9.10" height="9.10" fill="rgba(0,255,0,0.4)"/>
<rect x="159.15" y="2181.35" width="9.10" height="9.10" fill="rgba(0,255,0,0.4)"/>
<rect x="165.85" y="2178.95" width="9.10" height="9.10" fill="rgba(0,255,0,0.4)"/>
<rect x="189.65" y="2202.15" width="9.10" height="9.10" fill="rgba(0,255,0,0.4)"/>
<circle cx="211.70" cy="2075.90" r="5.05" fill="rgba(255,0,0,0.4)"/>
<circle cx="243.40" cy="2080.40" r="5.05" fill="rgba(255,0,0,0.4)"/>
<circle cx="243.40" cy="2080.40" r="5.05" fill="rgba(255,0,0,0.4)"/>
<circle cx="303.70" cy="2147.40" r="5.05" fill="rgba(255,0,0,0.4)"/>
<polygon points="454.50,2189.95 460.30,2200.05 448.70,2200.05" fill="rgba(0,0,255,0.4)"/>
<polygon points="454.50,2189.95 460.30,2200.05 448.70,2200.05" fill="rgba(0,0,255,0.4)"/>
<polygon points="520.20,2252.75 526.00,2262.85 514.40,2262.85" fill="rgba(0,0,255,0.4)"/>
<polygon points="517.20,2262.95 523.00,2273.05 511.40,2273.05" fill="rgba(0,0,255,0.4)"/>
<polygon points="536.60,1972.40 541.10,1976.90 536.60,1981.40 532.10,1976.90" fill="rgba(255,0,255,0.4)"/>
<polygon points="533.20,2010.00 537.70,2014.50 533.20,2019.00 528.70,2014.50" fill="rgba(255,0,255,0.4)"/>
<polygon points="595.20,2170.50 599.70,2175.00 595.20,2179.50 590.70,2175.00" fill="rgba(255,0,255,0.4)"/>
<polygon points="595.20,2170.50 599.70,2175.00 595.20,2179.50 590.70,2175.00" fill="rgba(255,0,255,0.4)"/>
<rect x="71.2" y="1761.9" width="646.0" height="646.4000000000001" fill="none" stroke="#383838" stroke-width="1.4"/>
<line x1="110.00" y1="2408.3" x2="110.00" y2="2415.3" stroke="#333" stroke-width="1.4"/>
<text x="110.00" y="2435.1" text-anchor="middle" font-family="'Liberation Sans', Arial, sans-serif" font-size="12.1">-20</text>
<line x1="239.40" y1="2408.3" x2="239.40" y2="2415.3" stroke="#333" stroke-width="1.4"/>
<text x="239.40" y="2435.1" text-anchor="middle" font-family="'Liberation Sans', Arial, sans-serif" font-size="12.1">-10</text>
<line x1="368.80" y1="2408.3" x2="368.80" y2="2415.3" stroke="#333" stroke-width="1.4"/>
<text x="368.80" y="2435.1" text-anchor="middle" font-family="'Liberation Sans', Arial, sans-serif" font-size="12.1">0</text>
<line x1="498.20" y1="2408.3" x2="498.20" y2="2415.3" stroke="#333" stroke-width="1.4"/>
<text x="498.20" y="2435.1" text-anchor="middle" font-family="'Liberation Sans', Arial, sans-serif" font-size="12.1">10</text>
<line x1="627.60" y1="2408.3" x2="627.60" y2="2415.3" stroke="#333" stroke-width="1.4"/>
<text x="627.60" y="2435.1" text-anchor="middle" font-family="'Liberation Sans', Arial, sans-serif" font-size="12.1">20</text>
<line x1="64.2" y1="2356.20" x2="71.2" y2="2356.20" stroke="#333" stroke-width="1.4"/>
<text x="56.4" y="2356.20" transform="rotate(-90 56.4 2356.20)" text-anchor="middle" font-family="'Liberation Sans', Arial, sans-serif" font-size="12.1">-20</text>
<line x1="64.2" y1="2253.20" x2="71.2" y2="2253.20" stroke="#333" stroke-width="1.4"/>
<text x="56.4" y="2253.20" transform="rotate(-90 56.4 2253.20)" text-anchor="middle" font-family="'Liberation Sans', Arial, sans-serif" font-size="12.1">-10</text>
<line x1="64.2" y1="2150.20" x2="71.2" y2="2150.20" stroke="#333" stroke-width="1.4"/>
<text x="56.4" y="2150.20" transform="rotate(-90 56.4 2150.20)" text-anchor="middle" font-family="'Liberation Sans', Arial, sans-serif" font-size="12.1">0</text>
<line x1="64.2" y1="2047.20" x2="71.2" y2="2047.20" stroke="#333" stroke-width="1.4"/>
<text x="56.4" y="2047.20" transform="rotate(-90 56.4 2047.20)" text-anchor="middle" font-family="'Liberation Sans', Arial, sans-serif" font-size="12.1">10</text>
<line x1="64.2" y1="1944.20" x2="71.2" y2="1944.20" stroke="#333" stroke-width="1.4"/>
<text x="56.4" y="1944.20" transform="rotate(-90 56.4 1944.20)" text-anchor="middle" font-family="'Liberation Sans', Arial, sans-serif" font-size="12.1">20</text>
<line x1="64.2" y1="1841.20" x2="71.2" y2="1841.20" stroke="#333" stroke-width="1.4"/>
<text x="56.4" y="1841.20" transform="rotate(-90 56.4 1841.20)" text-anchor="middle" font-family="'Liberation Sans', Arial, sans-serif" font-size="12.1">30</text>
<text x="397.1" y="1716.7" text-anchor="middle" font-family="'Liberation Serif', 'Times New Roman', serif" font-weight="bold" font-size="30.1">V10 vs. C5</text>
<text x="394.5" y="1746.4" text-anchor="middle" font-family="'Liberation Sans', Arial, sans-serif" font-weight="bold" font-size="14.3">Scores Plot</text>
<text x="394.1" y="2462.5" text-anchor="middle" font-family="'Liberation Sans', Arial, sans-serif" font-size="12.1">Component 1 ( 25.6 %)</text>
<text x="28.9" y="2084.2" transform="rotate(-90 28.9 2084.2)" text-anchor="middle" font-family="'Liberation Sans', Arial, sans-serif" font-size="12.1">Component 2 ( 10.7 %)</text>
<rect x="735.25" y="1781.85" width="5.30" height="5.30" fill="rgba(0,255,0,1)"/>
<text x="748.6" y="1788.60" font-family="'Liberation Sans', Arial, sans-serif" font-size="11.95">C5-Mock</text>
<circle cx="737.90" cy="1798.07" r="3.25" fill="rgba(255,0,0,1)"/>
<text x="748.6" y="1802.17" font-family="'Liberation Sans', Arial, sans-serif" font-size="11.95">C5-Treated</text>
<polygon points="737.90,1808.68 741.30,1814.60 734.50,1814.60" fill="rgba(0,0,255,1)"/>
<text x="748.6" y="1815.74" font-family="'Liberation Sans', Arial, sans-serif" font-size="11.95">V10-Mock</text>
<polygon points="737.90,1822.56 740.55,1825.21 737.90,1827.86 735.25,1825.21" fill="rgba(255,0,255,1)"/>
<text x="748.6" y="1829.31" font-family="'Liberation Sans', Arial, sans-serif" font-size="11.95">V10-Treated</text>
<line x1="985.68" y1="1766.9" x2="985.68" y2="2412.0" stroke="#d8d8d8" stroke-width="1.2"/>
<line x1="1094.44" y1="1766.9" x2="1094.44" y2="2412.0" stroke="#d8d8d8" stroke-width="1.2"/>
<line x1="1203.20" y1="1766.9" x2="1203.20" y2="2412.0" stroke="#d8d8d8" stroke-width="1.2"/>
<line x1="1311.96" y1="1766.9" x2="1311.96" y2="2412.0" stroke="#d8d8d8" stroke-width="1.2"/>
<line x1="1420.72" y1="1766.9" x2="1420.72" y2="2412.0" stroke="#d8d8d8" stroke-width="1.2"/>
<line x1="1529.48" y1="1766.9" x2="1529.48" y2="2412.0" stroke="#d8d8d8" stroke-width="1.2"/>
<line x1="905.8" y1="2395.35" x2="1551.7" y2="2395.35" stroke="#d8d8d8" stroke-width="1.2"/>
<line x1="905.8" y1="2308.90" x2="1551.7" y2="2308.90" stroke="#d8d8d8" stroke-width="1.2"/>
<line x1="905.8" y1="2222.45" x2="1551.7" y2="2222.45" stroke="#d8d8d8" stroke-width="1.2"/>
<line x1="905.8" y1="2136.00" x2="1551.7" y2="2136.00" stroke="#d8d8d8" stroke-width="1.2"/>
<line x1="905.8" y1="2049.55" x2="1551.7" y2="2049.55" stroke="#d8d8d8" stroke-width="1.2"/>
<line x1="905.8" y1="1963.10" x2="1551.7" y2="1963.10" stroke="#d8d8d8" stroke-width="1.2"/>
<line x1="905.8" y1="1876.65" x2="1551.7" y2="1876.65" stroke="#d8d8d8" stroke-width="1.2"/>
<line x1="905.8" y1="1790.20" x2="1551.7" y2="1790.20" stroke="#d8d8d8" stroke-width="1.2"/>
<ellipse cx="1072.40" cy="2207.80" rx="160.50" ry="57.70" transform="rotate(56.800 1072.40 2207.80)" fill="rgba(0,255,0,0.2)"/>
<ellipse cx="1117.77" cy="2063.75" rx="85.85" ry="14.83" transform="rotate(-76.290 1117.77 2063.75)" fill="rgba(255,0,0,0.2)"/>
<ellipse cx="1289.15" cy="2197.05" rx="58.38" ry="2.40" transform="rotate(11.310 1289.15 2197.05)" fill="rgba(0,0,255,0.2)"/>
<ellipse cx="1333.25" cy="2075.70" rx="285.43" ry="8.30" transform="rotate(57.978 1333.25 2075.70)" fill="rgba(255,0,255,0.2)"/>
<rect x="1076.75" y="2154.05" width="9.10" height="9.10" fill="rgba(0,255,0,0.4)"/>
<rect x="1036.45" y="2185.95" width="9.10" height="9.10" fill="rgba(0,255,0,0.4)"/>
<rect x="1036.45" y="2185.95" width="9.10" height="9.10" fill="rgba(0,255,0,0.4)"/>
<rect x="1122.45" y="2284.75" width="9.10" height="9.10" fill="rgba(0,255,0,0.4)"/>
<circle cx="1119.40" cy="2041.30" r="5.05" fill="rgba(255,0,0,0.4)"/>
<circle cx="1119.40" cy="2041.30" r="5.05" fill="rgba(255,0,0,0.4)"/>
<circle cx="1127.90" cy="2060.80" r="5.05" fill="rgba(255,0,0,0.4)"/>
<circle cx="1103.50" cy="2113.50" r="5.05" fill="rgba(255,0,0,0.4)"/>
<polygon points="1269.10,2186.65 1274.90,2196.75 1263.30,2196.75" fill="rgba(0,0,255,0.4)"/>
<polygon points="1269.10,2186.65 1274.90,2196.75 1263.30,2196.75" fill="rgba(0,0,255,0.4)"/>
<polygon points="1302.10,2191.85 1307.90,2201.95 1296.30,2201.95" fill="rgba(0,0,255,0.4)"/>
<polygon points="1315.10,2196.45 1320.90,2206.55 1309.30,2206.55" fill="rgba(0,0,255,0.4)"/>
<polygon points="1268.40,1961.70 1272.90,1966.20 1268.40,1970.70 1263.90,1966.20" fill="rgba(255,0,255,0.4)"/>
<polygon points="1292.10,2013.40 1296.60,2017.90 1292.10,2022.40 1287.60,2017.90" fill="rgba(255,0,255,0.4)"/>
<polygon points="1386.40,2155.10 1390.90,2159.60 1386.40,2164.10 1381.90,2159.60" fill="rgba(255,0,255,0.4)"/>
<polygon points="1386.40,2155.10 1390.90,2159.60 1386.40,2164.10 1381.90,2159.60" fill="rgba(255,0,255,0.4)"/>
<rect x="905.8" y="1766.9" width="645.9000000000001" height="645.0999999999999" fill="none" stroke="#383838" stroke-width="1.4"/>
<line x1="985.68" y1="2412.0" x2="985.68" y2="2419.0" stroke="#333" stroke-width="1.4"/>
<text x="985.68" y="2439.0" text-anchor="middle" font-family="'Liberation Sans', Arial, sans-serif" font-size="11.7">-20</text>
<line x1="1094.44" y1="2412.0" x2="1094.44" y2="2419.0" stroke="#333" stroke-width="1.4"/>
<text x="1094.44" y="2439.0" text-anchor="middle" font-family="'Liberation Sans', Arial, sans-serif" font-size="11.7">-10</text>
<line x1="1203.20" y1="2412.0" x2="1203.20" y2="2419.0" stroke="#333" stroke-width="1.4"/>
<text x="1203.20" y="2439.0" text-anchor="middle" font-family="'Liberation Sans', Arial, sans-serif" font-size="11.7">0</text>
<line x1="1311.96" y1="2412.0" x2="1311.96" y2="2419.0" stroke="#333" stroke-width="1.4"/>
<text x="1311.96" y="2439.0" text-anchor="middle" font-family="'Liberation Sans', Arial, sans-serif" font-size="11.7">10</text>
<line x1="1420.72" y1="2412.0" x2="1420.72" y2="2419.0" stroke="#333" stroke-width="1.4"/>
<text x="1420.72" y="2439.0" text-anchor="middle" font-family="'Liberation Sans', Arial, sans-serif" font-size="11.7">20</text>
<line x1="1529.48" y1="2412.0" x2="1529.48" y2="2419.0" stroke="#333" stroke-width="1.4"/>
<text x="1529.48" y="2439.0" text-anchor="middle" font-family="'Liberation Sans', Arial, sans-serif" font-size="11.7">30</text>
<line x1="898.8" y1="2395.35" x2="905.8" y2="2395.35" stroke="#333" stroke-width="1.4"/>
<text x="891.2" y="2395.35" transform="rotate(-90 891.2 2395.35)" text-anchor="middle" font-family="'Liberation Sans', Arial, sans-serif" font-size="11.7">-30</text>
<line x1="898.8" y1="2308.90" x2="905.8" y2="2308.90" stroke="#333" stroke-width="1.4"/>
<text x="891.2" y="2308.90" transform="rotate(-90 891.2 2308.90)" text-anchor="middle" font-family="'Liberation Sans', Arial, sans-serif" font-size="11.7">-20</text>
<line x1="898.8" y1="2222.45" x2="905.8" y2="2222.45" stroke="#333" stroke-width="1.4"/>
<text x="891.2" y="2222.45" transform="rotate(-90 891.2 2222.45)" text-anchor="middle" font-family="'Liberation Sans', Arial, sans-serif" font-size="11.7">-10</text>
<line x1="898.8" y1="2136.00" x2="905.8" y2="2136.00" stroke="#333" stroke-width="1.4"/>
<text x="891.2" y="2136.00" transform="rotate(-90 891.2 2136.00)" text-anchor="middle" font-family="'Liberation Sans', Arial, sans-serif" font-size="11.7">0</text>
<line x1="898.8" y1="2049.55" x2="905.8" y2="2049.55" stroke="#333" stroke-width="1.4"/>
<text x="891.2" y="2049.55" transform="rotate(-90 891.2 2049.55)" text-anchor="middle" font-family="'Liberation Sans', Arial, sans-serif" font-size="11.7">10</text>
<line x1="898.8" y1="1963.10" x2="905.8" y2="1963.10" stroke="#333" stroke-width="1.4"/>
<text x="891.2" y="1963.10" transform="rotate(-90 891.2 1963.10)" text-anchor="middle" font-family="'Liberation Sans', Arial, sans-serif" font-size="11.7">20</text>
<line x1="898.8" y1="1876.65" x2="905.8" y2="1876.65" stroke="#333" stroke-width="1.4"/>
<text x="891.2" y="1876.65" transform="rotate(-90 891.2 1876.65)" text-anchor="middle" font-family="'Liberation Sans', Arial, sans-serif" font-size="11.7">30</text>
<line x1="898.8" y1="1790.20" x2="905.8" y2="1790.20" stroke="#333" stroke-width="1.4"/>
<text x="891.2" y="1790.20" transform="rotate(-90 891.2 1790.20)" text-anchor="middle" font-family="'Liberation Sans', Arial, sans-serif" font-size="11.7">40</text>
<text x="1247.4" y="1716.7" text-anchor="middle" font-family="'Liberation Serif', 'Times New Roman', serif" font-weight="bold" font-size="30.1">V10 vs. H6</text>
<text x="1228.9" y="1750.7" text-anchor="middle" font-family="'Liberation Sans', Arial, sans-serif" font-weight="bold" font-size="14.0">Scores Plot</text>
<text x="1228.8" y="2466.7" text-anchor="middle" font-family="'Liberation Sans', Arial, sans-serif" font-size="11.7">Component 1 ( 20.6 %)</text>
<text x="863.8" y="2089.6" transform="rotate(-90 863.8 2089.6)" text-anchor="middle" font-family="'Liberation Sans', Arial, sans-serif" font-size="11.7">Component 2 ( 17.6 %)</text>
<rect x="1569.35" y="1786.05" width="5.30" height="5.30" fill="rgba(0,255,0,1)"/>
<text x="1582.8" y="1792.80" font-family="'Liberation Sans', Arial, sans-serif" font-size="11.6">H6-Mock</text>
<circle cx="1572.00" cy="1802.35" r="3.25" fill="rgba(255,0,0,1)"/>
<text x="1582.8" y="1806.45" font-family="'Liberation Sans', Arial, sans-serif" font-size="11.6">H6-Treated</text>
<polygon points="1572.00,1813.04 1575.40,1818.96 1568.60,1818.96" fill="rgba(0,0,255,1)"/>
<text x="1582.8" y="1820.10" font-family="'Liberation Sans', Arial, sans-serif" font-size="11.6">V10-Mock</text>
<polygon points="1572.00,1827.00 1574.65,1829.65 1572.00,1832.30 1569.35,1829.65" fill="rgba(255,0,255,1)"/>
<text x="1582.8" y="1833.75" font-family="'Liberation Sans', Arial, sans-serif" font-size="11.6">V10-Treated</text>
</svg></body></html>
